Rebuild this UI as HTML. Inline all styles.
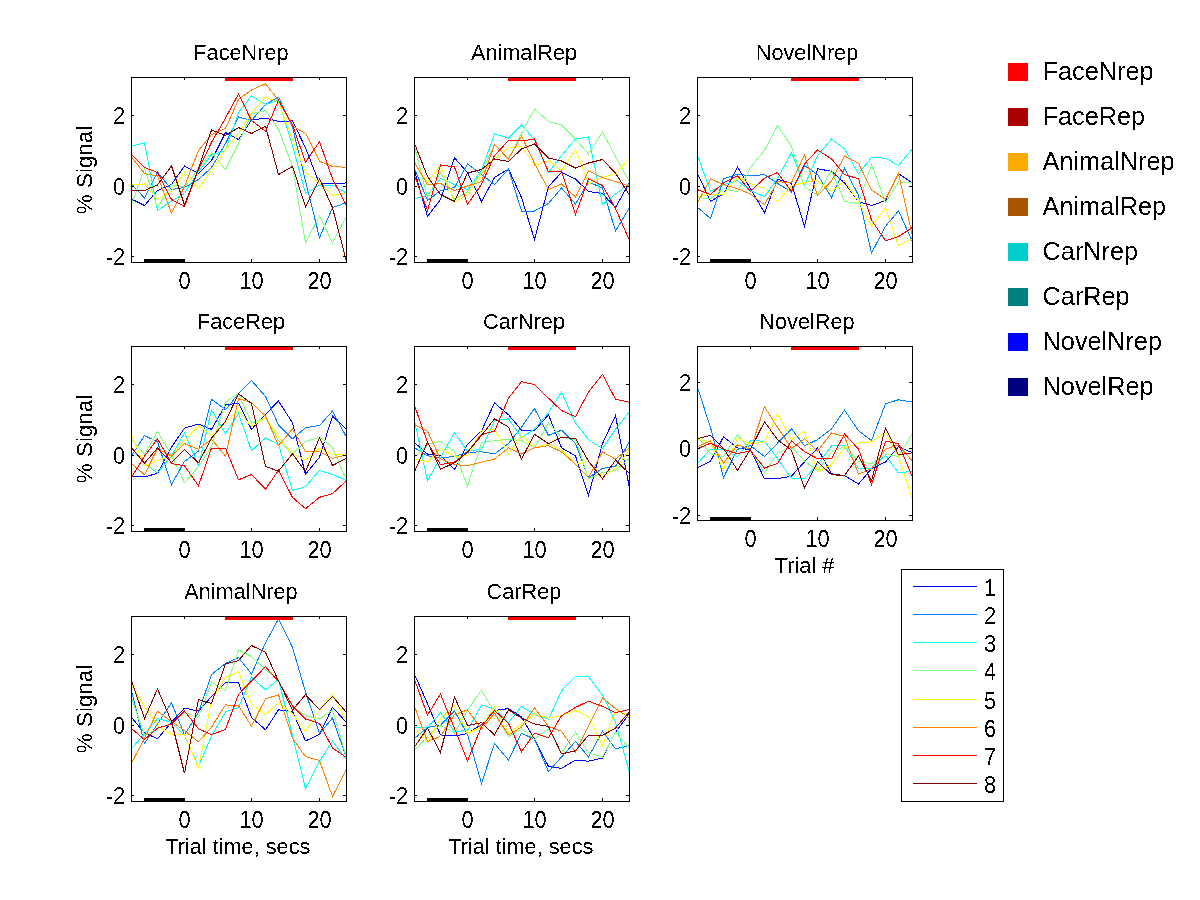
<!DOCTYPE html><html><head><meta charset="utf-8"><title>Figure</title><style>html,body{margin:0;padding:0;background:#fff;}svg{display:block;}text{font-family:"Liberation Sans", Arial, Helvetica, sans-serif;font-size:22.5px;fill:#000;}</style></head><body>
<svg width="1200" height="900" viewBox="0 0 1200 900">
<defs><filter id="crisp" x="0" y="0" width="1200" height="900" filterUnits="userSpaceOnUse"><feComponentTransfer><feFuncA type="discrete" tableValues="0 1"/></feComponentTransfer></filter></defs>
<rect x="0" y="0" width="1200" height="900" fill="#fff"/>
<g shape-rendering="crispEdges"><polyline points="131.5,199.0 144.5,205.5 157.5,190.5 171.5,184.5 184.5,166.0 198.5,173.5 211.5,160.5 225.5,132.5 238.5,139.5 251.5,120.0 265.5,118.2 278.5,121.3 292.5,120.9 305.5,147.8 319.5,183.9 332.5,183.9 346.5,182.9" fill="none" stroke="#0000ff" stroke-width="1"/><polyline points="131.5,184.0 144.5,198.0 157.5,172.0 171.5,189.5 184.5,187.5 198.5,179.5 211.5,167.5 225.5,143.5 238.5,117.0 251.5,120.5 265.5,104.4 278.5,97.1 292.5,127.1 305.5,180.8 319.5,237.7 332.5,207.7 346.5,202.5" fill="none" stroke="#0080ff" stroke-width="1"/><polyline points="131.5,146.0 144.5,143.0 157.5,210.5 171.5,201.0 184.5,193.5 198.5,171.5 211.5,155.0 225.5,150.5 238.5,112.5 251.5,96.0 265.5,104.4 278.5,100.2 292.5,145.7 305.5,193.2 319.5,185.0 332.5,185.0 346.5,193.2" fill="none" stroke="#00ffff" stroke-width="1"/><polyline points="131.5,204.5 144.5,168.5 157.5,207.5 171.5,185.0 184.5,187.0 198.5,168.5 211.5,152.5 225.5,169.5 238.5,143.5 251.5,114.0 265.5,110.5 278.5,129.2 292.5,166.4 305.5,242.8 319.5,216.0 332.5,242.8 346.5,216.0" fill="none" stroke="#80ff80" stroke-width="1"/><polyline points="131.5,185.0 144.5,184.0 157.5,199.5 171.5,191.0 184.5,172.0 198.5,188.5 211.5,170.5 225.5,149.5 238.5,133.5 251.5,113.5 265.5,97.1 278.5,102.3 292.5,139.5 305.5,172.5 319.5,182.9 332.5,195.3 346.5,193.2" fill="none" stroke="#ffff00" stroke-width="1"/><polyline points="131.5,157.0 144.5,173.5 157.5,176.0 171.5,213.0 184.5,186.5 198.5,150.5 211.5,134.5 225.5,128.5 238.5,99.5 251.5,90.0 265.5,83.7 278.5,100.2 292.5,126.1 305.5,133.3 319.5,161.2 332.5,166.4 346.5,167.4" fill="none" stroke="#ff8000" stroke-width="1"/><polyline points="131.5,154.5 144.5,167.5 157.5,172.5 171.5,199.5 184.5,206.5 198.5,169.5 211.5,142.5 225.5,118.1 238.5,94.0 251.5,120.5 265.5,131.2 278.5,100.2 292.5,125.0 305.5,162.2 319.5,141.5 332.5,178.8 346.5,205.5" fill="none" stroke="#ff0000" stroke-width="1"/><polyline points="131.5,190.5 144.5,190.5 157.5,185.0 171.5,166.0 184.5,205.0 198.5,168.5 211.5,130.0 225.5,135.5 238.5,127.5 251.5,133.5 265.5,126.1 278.5,174.6 292.5,166.4 305.5,206.7 319.5,178.8 332.5,207.7 346.5,261.5" fill="none" stroke="#800000" stroke-width="1"/></g>
<rect x="131.5" y="77.5" width="215" height="185" fill="none" stroke="#000" stroke-width="1" shape-rendering="crispEdges"/>
<g fill="#000"><rect x="184" y="259" width="1" height="3"/><rect x="184" y="78" width="1" height="2"/><rect x="251" y="259" width="1" height="3"/><rect x="251" y="78" width="1" height="2"/><rect x="319" y="259" width="1" height="3"/><rect x="319" y="78" width="1" height="2"/><rect x="132" y="256" width="2" height="1"/><rect x="343" y="256" width="3" height="1"/><rect x="132" y="186" width="2" height="1"/><rect x="343" y="186" width="3" height="1"/><rect x="132" y="115" width="2" height="1"/><rect x="343" y="115" width="3" height="1"/></g>
<rect x="144" y="259" width="41" height="3" fill="#000"/>
<rect x="225" y="78" width="68" height="3" fill="#ff0000"/>
<g shape-rendering="crispEdges"><polyline points="414.5,170.5 427.5,216.5 440.5,199.5 454.5,158.0 467.5,172.5 481.5,201.5 494.5,177.5 508.5,169.0 521.5,197.5 534.5,239.5 548.5,186.5 561.5,172.5 575.5,179.0 588.5,191.5 602.5,193.5 615.5,207.5 629.5,182.5" fill="none" stroke="#0000ff" stroke-width="1"/><polyline points="414.5,168.5 427.5,200.5 440.5,190.5 454.5,187.5 467.5,164.0 481.5,174.5 494.5,184.5 508.5,169.0 521.5,211.0 534.5,211.0 548.5,203.5 561.5,188.0 575.5,204.0 588.5,182.0 602.5,188.0 615.5,231.0 629.5,207.5" fill="none" stroke="#0080ff" stroke-width="1"/><polyline points="414.5,198.5 427.5,195.5 440.5,178.5 454.5,184.5 467.5,189.5 481.5,170.5 494.5,134.0 508.5,138.0 521.5,125.0 534.5,139.5 548.5,172.5 561.5,155.5 575.5,139.0 588.5,137.0 602.5,204.5 615.5,194.0 629.5,183.5" fill="none" stroke="#00ffff" stroke-width="1"/><polyline points="414.5,146.5 427.5,197.5 440.5,172.5 454.5,199.5 467.5,191.5 481.5,172.5 494.5,144.5 508.5,158.5 521.5,133.5 534.5,109.0 548.5,121.5 561.5,125.0 575.5,139.0 588.5,154.0 602.5,132.0 615.5,156.5 629.5,181.5" fill="none" stroke="#80ff80" stroke-width="1"/><polyline points="414.5,163.5 427.5,182.5 440.5,165.5 454.5,202.5 467.5,194.5 481.5,173.5 494.5,159.5 508.5,147.5 521.5,146.0 534.5,165.5 548.5,160.5 561.5,170.5 575.5,150.0 588.5,183.0 602.5,177.5 615.5,173.5 629.5,158.5" fill="none" stroke="#ffff00" stroke-width="1"/><polyline points="414.5,162.5 427.5,184.5 440.5,183.5 454.5,190.5 467.5,186.0 481.5,181.5 494.5,144.5 508.5,159.0 521.5,136.0 534.5,163.5 548.5,189.5 561.5,184.0 575.5,197.0 588.5,171.0 602.5,177.5 615.5,181.5 629.5,186.0" fill="none" stroke="#ff8000" stroke-width="1"/><polyline points="414.5,175.5 427.5,210.5 440.5,165.0 454.5,167.0 467.5,204.5 481.5,184.5 494.5,155.5 508.5,140.5 521.5,141.0 534.5,139.0 548.5,172.0 561.5,171.0 575.5,214.5 588.5,179.0 602.5,185.5 615.5,208.5 629.5,240.5" fill="none" stroke="#ff0000" stroke-width="1"/><polyline points="414.5,143.5 427.5,176.5 440.5,194.5 454.5,201.5 467.5,173.0 481.5,169.5 494.5,159.0 508.5,161.5 521.5,149.0 534.5,144.0 548.5,158.0 561.5,161.0 575.5,168.0 588.5,163.0 602.5,159.5 615.5,173.0 629.5,195.0" fill="none" stroke="#800000" stroke-width="1"/></g>
<rect x="414.5" y="77.5" width="215" height="185" fill="none" stroke="#000" stroke-width="1" shape-rendering="crispEdges"/>
<g fill="#000"><rect x="467" y="259" width="1" height="3"/><rect x="467" y="78" width="1" height="2"/><rect x="534" y="259" width="1" height="3"/><rect x="534" y="78" width="1" height="2"/><rect x="602" y="259" width="1" height="3"/><rect x="602" y="78" width="1" height="2"/><rect x="415" y="256" width="2" height="1"/><rect x="626" y="256" width="3" height="1"/><rect x="415" y="186" width="2" height="1"/><rect x="626" y="186" width="3" height="1"/><rect x="415" y="115" width="2" height="1"/><rect x="626" y="115" width="3" height="1"/></g>
<rect x="427" y="259" width="41" height="3" fill="#000"/>
<rect x="508" y="78" width="68" height="3" fill="#ff0000"/>
<g shape-rendering="crispEdges"><polyline points="697.5,173.6 710.5,201.2 723.5,194.1 737.5,166.9 750.5,188.7 764.5,212.8 777.5,179.2 791.5,183.6 804.5,226.5 817.5,168.7 831.5,171.3 844.5,182.9 858.5,201.5 871.5,205.6 885.5,200.5 898.5,173.6 912.5,182.9" fill="none" stroke="#0000ff" stroke-width="1"/><polyline points="697.5,207.4 710.5,218.5 723.5,178.9 737.5,174.1 750.5,175.8 764.5,174.6 777.5,183.5 791.5,191.6 804.5,165.5 817.5,174.5 831.5,197.6 844.5,168.4 858.5,195.3 871.5,253.2 885.5,226.3 898.5,210.8 912.5,241.8" fill="none" stroke="#0080ff" stroke-width="1"/><polyline points="697.5,155.4 710.5,191.4 723.5,184.7 737.5,180.7 750.5,190.5 764.5,196.8 777.5,178.5 791.5,152.7 804.5,185.5 817.5,155.9 831.5,139.0 844.5,148.8 858.5,173.6 871.5,157.7 885.5,158.1 898.5,165.3 912.5,148.8" fill="none" stroke="#00ffff" stroke-width="1"/><polyline points="697.5,197.6 710.5,198.9 723.5,188.7 737.5,191.8 750.5,167.4 764.5,150.5 777.5,125.6 791.5,146.1 804.5,186.9 817.5,195.0 831.5,170.1 844.5,201.5 858.5,203.6 871.5,164.3 885.5,202.5 898.5,181.9 912.5,182.9" fill="none" stroke="#80ff80" stroke-width="1"/><polyline points="697.5,196.7 710.5,194.1 723.5,194.1 737.5,177.6 750.5,183.4 764.5,188.5 777.5,201.8 791.5,185.8 804.5,182.5 817.5,180.5 831.5,191.5 844.5,180.8 858.5,201.5 871.5,226.3 885.5,207.7 898.5,245.9 912.5,238.7" fill="none" stroke="#ffff00" stroke-width="1"/><polyline points="697.5,202.9 710.5,178.9 723.5,184.7 737.5,188.7 750.5,194.1 764.5,204.8 777.5,181.7 791.5,182.6 804.5,154.9 817.5,195.7 831.5,180.8 844.5,156.0 858.5,163.3 871.5,190.1 885.5,199.4 898.5,173.6 912.5,236.6" fill="none" stroke="#ff8000" stroke-width="1"/><polyline points="697.5,189.6 710.5,194.5 723.5,182.9 737.5,175.8 750.5,191.4 764.5,178.1 777.5,172.6 791.5,191.7 804.5,164.0 817.5,150.0 831.5,158.8 844.5,174.6 858.5,178.8 871.5,220.1 885.5,240.8 898.5,236.6 912.5,227.3" fill="none" stroke="#ff0000" stroke-width="1"/><polyline points="" fill="none" stroke="#800000" stroke-width="1"/></g>
<rect x="697.5" y="77.5" width="215" height="185" fill="none" stroke="#000" stroke-width="1" shape-rendering="crispEdges"/>
<g fill="#000"><rect x="750" y="259" width="1" height="3"/><rect x="750" y="78" width="1" height="2"/><rect x="817" y="259" width="1" height="3"/><rect x="817" y="78" width="1" height="2"/><rect x="885" y="259" width="1" height="3"/><rect x="885" y="78" width="1" height="2"/><rect x="698" y="256" width="2" height="1"/><rect x="909" y="256" width="3" height="1"/><rect x="698" y="186" width="2" height="1"/><rect x="909" y="186" width="3" height="1"/><rect x="698" y="115" width="2" height="1"/><rect x="909" y="115" width="3" height="1"/></g>
<rect x="710" y="259" width="41" height="3" fill="#000"/>
<rect x="791" y="78" width="68" height="3" fill="#ff0000"/>
<g shape-rendering="crispEdges"><polyline points="131.5,476.1 144.5,476.9 157.5,473.4 171.5,447.2 184.5,428.1 198.5,424.1 211.5,429.4 225.5,404.9 238.5,403.2 251.5,429.4 265.5,414.3 278.5,401.1 292.5,422.7 305.5,474.4 319.5,457.2 332.5,416.1 346.5,429.4" fill="none" stroke="#0000ff" stroke-width="1"/><polyline points="131.5,455.6 144.5,435.6 157.5,441.8 171.5,484.5 184.5,461.4 198.5,451.1 211.5,399.2 225.5,409.8 238.5,393.8 251.5,380.5 265.5,396.5 278.5,424.9 292.5,438.8 305.5,427.7 319.5,425.5 332.5,411.1 346.5,437.2" fill="none" stroke="#0080ff" stroke-width="1"/><polyline points="131.5,448.1 144.5,463.2 157.5,472.9 171.5,456.1 184.5,432.9 198.5,465.8 211.5,409.8 225.5,433.8 238.5,413.4 251.5,450.7 265.5,438.0 278.5,444.4 292.5,490.5 305.5,486.6 319.5,470.5 332.5,474.4 346.5,480.5" fill="none" stroke="#00ffff" stroke-width="1"/><polyline points="131.5,439.2 144.5,454.3 157.5,431.6 171.5,455.2 184.5,482.7 198.5,466.7 211.5,446.3 225.5,401.8 238.5,393.8 251.5,423.2 265.5,417.6 278.5,440.5 292.5,453.8 305.5,441.6 319.5,437.2 332.5,447.2 346.5,480.5" fill="none" stroke="#80ff80" stroke-width="1"/><polyline points="131.5,434.7 144.5,465.8 157.5,460.5 171.5,456.1 184.5,440.5 198.5,425.8 211.5,435.6 225.5,422.3 238.5,410.3 251.5,426.7 265.5,417.4 278.5,437.2 292.5,453.8 305.5,459.9 319.5,448.3 332.5,454.9 346.5,453.8" fill="none" stroke="#ffff00" stroke-width="1"/><polyline points="131.5,463.6 144.5,474.7 157.5,448.5 171.5,456.1 184.5,443.6 198.5,449.3 211.5,439.2 225.5,456.1 238.5,398.7 251.5,402.7 265.5,416.1 278.5,445.5 292.5,428.8 305.5,451.6 319.5,451.6 332.5,458.3 346.5,454.9" fill="none" stroke="#ff8000" stroke-width="1"/><polyline points="131.5,477.4 144.5,456.1 157.5,438.7 171.5,463.6 184.5,465.8 198.5,485.8 211.5,448.1 225.5,448.1 238.5,479.8 251.5,474.6 265.5,489.2 278.5,470.2 292.5,497.4 305.5,508.7 319.5,497.3 332.5,493.7 346.5,480.5" fill="none" stroke="#ff0000" stroke-width="1"/><polyline points="131.5,447.6 144.5,463.2 157.5,448.1 171.5,462.7 184.5,449.8 198.5,462.8 211.5,438.3 225.5,421.4 238.5,393.8 251.5,403.6 265.5,466.5 278.5,471.1 292.5,453.8 305.5,471.6 319.5,437.7 332.5,465.5 346.5,458.3" fill="none" stroke="#800000" stroke-width="1"/></g>
<rect x="131.5" y="346.5" width="215" height="185" fill="none" stroke="#000" stroke-width="1" shape-rendering="crispEdges"/>
<g fill="#000"><rect x="184" y="528" width="1" height="3"/><rect x="184" y="347" width="1" height="2"/><rect x="251" y="528" width="1" height="3"/><rect x="251" y="347" width="1" height="2"/><rect x="319" y="528" width="1" height="3"/><rect x="319" y="347" width="1" height="2"/><rect x="132" y="525" width="2" height="1"/><rect x="343" y="525" width="3" height="1"/><rect x="132" y="455" width="2" height="1"/><rect x="343" y="455" width="3" height="1"/><rect x="132" y="384" width="2" height="1"/><rect x="343" y="384" width="3" height="1"/></g>
<rect x="144" y="528" width="41" height="3" fill="#000"/>
<rect x="225" y="347" width="68" height="3" fill="#ff0000"/>
<g shape-rendering="crispEdges"><polyline points="414.5,442.5 427.5,454.1 440.5,455.8 454.5,469.6 467.5,444.3 481.5,430.9 494.5,403.0 508.5,414.7 521.5,430.2 534.5,430.8 548.5,414.7 561.5,447.8 575.5,456.0 588.5,495.3 602.5,443.6 615.5,415.7 629.5,488.1" fill="none" stroke="#0000ff" stroke-width="1"/><polyline points="414.5,447.8 427.5,455.8 440.5,458.1 454.5,456.3 467.5,452.3 481.5,451.8 494.5,454.0 508.5,443.6 521.5,427.1 534.5,408.5 548.5,435.4 561.5,430.2 575.5,443.6 588.5,477.7 602.5,468.4 615.5,466.4 629.5,441.6" fill="none" stroke="#0080ff" stroke-width="1"/><polyline points="414.5,420.7 427.5,480.7 440.5,457.6 454.5,432.7 467.5,451.4 481.5,449.2 494.5,420.9 508.5,418.8 521.5,437.4 534.5,429.1 548.5,412.6 561.5,392.0 575.5,423.0 588.5,439.5 602.5,448.8 615.5,429.2 629.5,411.6" fill="none" stroke="#00ffff" stroke-width="1"/><polyline points="414.5,457.6 427.5,444.3 440.5,441.2 454.5,451.4 467.5,486.1 481.5,442.9 494.5,440.5 508.5,439.5 521.5,440.5 534.5,447.8 548.5,423.0 561.5,437.4 575.5,439.5 588.5,478.8 602.5,472.6 615.5,470.5 629.5,458.1" fill="none" stroke="#80ff80" stroke-width="1"/><polyline points="414.5,458.9 427.5,462.1 440.5,448.7 454.5,456.3 467.5,455.8 481.5,430.1 494.5,429.2 508.5,454.0 521.5,435.4 534.5,447.8 548.5,443.6 561.5,449.8 575.5,464.3 588.5,461.2 602.5,476.7 615.5,468.4 629.5,449.8" fill="none" stroke="#ffff00" stroke-width="1"/><polyline points="414.5,424.7 427.5,431.4 440.5,458.9 454.5,464.7 467.5,465.6 481.5,462.1 494.5,459.1 508.5,447.8 521.5,454.0 534.5,447.8 548.5,445.7 561.5,451.9 575.5,464.3 588.5,477.7 602.5,451.9 615.5,459.1 629.5,447.8" fill="none" stroke="#ff8000" stroke-width="1"/><polyline points="414.5,405.4 427.5,442.5 440.5,464.7 454.5,462.1 467.5,452.3 481.5,434.5 494.5,431.2 508.5,398.2 521.5,381.6 534.5,384.7 548.5,398.2 561.5,410.6 575.5,416.8 588.5,392.0 602.5,374.4 615.5,399.2 629.5,402.3" fill="none" stroke="#ff0000" stroke-width="1"/><polyline points="414.5,471.8 427.5,442.1 440.5,469.2 454.5,462.9 467.5,452.3 481.5,435.5 494.5,418.8 508.5,427.1 521.5,459.1 534.5,434.3 548.5,443.6 561.5,437.4 575.5,438.5 588.5,461.2 602.5,478.8 615.5,460.2 629.5,473.6" fill="none" stroke="#800000" stroke-width="1"/></g>
<rect x="414.5" y="346.5" width="215" height="185" fill="none" stroke="#000" stroke-width="1" shape-rendering="crispEdges"/>
<g fill="#000"><rect x="467" y="528" width="1" height="3"/><rect x="467" y="347" width="1" height="2"/><rect x="534" y="528" width="1" height="3"/><rect x="534" y="347" width="1" height="2"/><rect x="602" y="528" width="1" height="3"/><rect x="602" y="347" width="1" height="2"/><rect x="415" y="525" width="2" height="1"/><rect x="626" y="525" width="3" height="1"/><rect x="415" y="455" width="2" height="1"/><rect x="626" y="455" width="3" height="1"/><rect x="415" y="384" width="2" height="1"/><rect x="626" y="384" width="3" height="1"/></g>
<rect x="427" y="528" width="41" height="3" fill="#000"/>
<rect x="508" y="347" width="68" height="3" fill="#ff0000"/>
<g shape-rendering="crispEdges"><polyline points="697.5,467.9 710.5,461.3 723.5,436.8 737.5,447.9 750.5,449.7 764.5,478.9 777.5,478.7 791.5,476.1 804.5,461.8 817.5,448.1 831.5,473.8 844.5,475.7 858.5,484.0 871.5,468.7 885.5,462.0 898.5,446.7 912.5,452.8" fill="none" stroke="#0000ff" stroke-width="1"/><polyline points="697.5,387.4 710.5,427.5 723.5,477.7 737.5,449.3 750.5,445.7 764.5,456.6 777.5,443.2 791.5,428.9 804.5,445.8 817.5,439.6 831.5,428.9 844.5,410.1 858.5,430.8 871.5,440.6 885.5,403.9 898.5,399.7 912.5,402.1" fill="none" stroke="#0080ff" stroke-width="1"/><polyline points="697.5,463.5 710.5,449.3 723.5,449.7 737.5,456.8 750.5,440.8 764.5,441.1 777.5,458.3 791.5,478.7 804.5,478.7 817.5,464.5 831.5,445.8 844.5,446.0 858.5,468.7 871.5,468.7 885.5,455.3 898.5,473.0 912.5,471.2" fill="none" stroke="#00ffff" stroke-width="1"/><polyline points="697.5,436.4 710.5,453.7 723.5,456.8 737.5,434.6 750.5,449.7 764.5,472.9 777.5,452.9 791.5,446.7 804.5,460.9 817.5,470.7 831.5,452.1 844.5,446.5 858.5,461.4 871.5,463.8 885.5,454.1 898.5,456.5 912.5,433.3" fill="none" stroke="#80ff80" stroke-width="1"/><polyline points="697.5,439.1 710.5,442.2 723.5,469.7 737.5,438.2 750.5,443.9 764.5,442.0 777.5,413.8 791.5,439.6 804.5,431.2 817.5,471.6 831.5,464.5 844.5,448.0 858.5,443.1 871.5,441.8 885.5,432.1 898.5,456.5 912.5,499.3" fill="none" stroke="#ffff00" stroke-width="1"/><polyline points="697.5,446.6 710.5,440.8 723.5,463.1 737.5,444.8 750.5,449.3 764.5,406.8 777.5,427.2 791.5,448.5 804.5,438.7 817.5,451.2 831.5,432.9 844.5,436.5 858.5,474.2 871.5,468.7 885.5,449.2 898.5,444.9 912.5,461.4" fill="none" stroke="#ff8000" stroke-width="1"/><polyline points="697.5,448.8 710.5,443.1 723.5,449.3 737.5,453.7 750.5,450.6 764.5,468.0 777.5,463.6 791.5,440.9 804.5,451.6 817.5,458.7 831.5,458.7 844.5,433.9 858.5,449.2 871.5,484.6 885.5,441.2 898.5,443.7 912.5,477.3" fill="none" stroke="#ff0000" stroke-width="1"/><polyline points="697.5,438.6 710.5,435.5 723.5,448.4 737.5,470.2 750.5,449.3 764.5,421.7 777.5,439.6 791.5,450.3 804.5,487.9 817.5,461.8 831.5,474.7 844.5,475.5 858.5,455.9 871.5,481.0 885.5,427.8 898.5,454.7 912.5,452.8" fill="none" stroke="#800000" stroke-width="1"/></g>
<rect x="697.5" y="346.5" width="215" height="174" fill="none" stroke="#000" stroke-width="1" shape-rendering="crispEdges"/>
<g fill="#000"><rect x="750" y="517" width="1" height="3"/><rect x="750" y="347" width="1" height="2"/><rect x="817" y="517" width="1" height="3"/><rect x="817" y="347" width="1" height="2"/><rect x="885" y="517" width="1" height="3"/><rect x="885" y="347" width="1" height="2"/><rect x="698" y="515" width="2" height="1"/><rect x="909" y="515" width="3" height="1"/><rect x="698" y="448" width="2" height="1"/><rect x="909" y="448" width="3" height="1"/><rect x="698" y="382" width="2" height="1"/><rect x="909" y="382" width="3" height="1"/></g>
<rect x="710" y="517" width="41" height="3" fill="#000"/>
<rect x="791" y="347" width="68" height="3" fill="#ff0000"/>
<g shape-rendering="crispEdges"><polyline points="131.5,717.4 144.5,732.9 157.5,738.7 171.5,722.3 184.5,708.1 198.5,711.1 211.5,696.5 225.5,682.5 238.5,683.0 251.5,717.5 265.5,729.8 278.5,709.8 292.5,711.4 305.5,740.9 319.5,734.5 332.5,707.3 346.5,722.5" fill="none" stroke="#0000ff" stroke-width="1"/><polyline points="131.5,691.2 144.5,743.6 157.5,724.1 171.5,702.7 184.5,735.0 198.5,712.5 211.5,674.5 225.5,663.5 238.5,657.5 251.5,674.0 265.5,643.0 278.5,618.6 292.5,647.5 305.5,692.0 319.5,733.5 332.5,718.1 346.5,758.0" fill="none" stroke="#0080ff" stroke-width="1"/><polyline points="131.5,748.9 144.5,733.8 157.5,718.7 171.5,722.3 184.5,735.2 198.5,766.3 211.5,736.1 225.5,712.0 238.5,707.5 251.5,677.1 265.5,689.8 278.5,679.5 292.5,735.5 305.5,788.5 319.5,761.5 332.5,741.0 346.5,760.0" fill="none" stroke="#00ffff" stroke-width="1"/><polyline points="131.5,697.4 144.5,735.6 157.5,728.5 171.5,724.1 184.5,712.3 198.5,717.6 211.5,682.0 225.5,690.5 238.5,650.0 251.5,656.5 265.5,669.5 278.5,680.1 292.5,707.2 305.5,715.5 319.5,719.0 332.5,710.0 346.5,757.5" fill="none" stroke="#80ff80" stroke-width="1"/><polyline points="131.5,685.2 144.5,706.3 157.5,725.8 171.5,734.7 184.5,734.3 198.5,768.1 211.5,700.5 225.5,677.5 238.5,671.2 251.5,704.1 265.5,714.7 278.5,702.7 292.5,713.7 305.5,731.5 319.5,710.0 332.5,693.9 346.5,721.5" fill="none" stroke="#ffff00" stroke-width="1"/><polyline points="131.5,763.2 144.5,738.3 157.5,711.2 171.5,721.4 184.5,730.7 198.5,741.8 211.5,727.2 225.5,704.9 238.5,705.7 251.5,726.3 265.5,698.8 278.5,694.9 292.5,738.1 305.5,756.7 319.5,760.5 332.5,796.5 346.5,769.3" fill="none" stroke="#ff8000" stroke-width="1"/><polyline points="131.5,728.5 144.5,739.6 157.5,728.1 171.5,724.1 184.5,711.2 198.5,728.7 211.5,734.7 225.5,729.4 238.5,694.3 251.5,681.1 265.5,666.7 278.5,681.5 292.5,705.8 305.5,719.0 319.5,723.5 332.5,748.0 346.5,757.5" fill="none" stroke="#ff0000" stroke-width="1"/><polyline points="131.5,680.5 144.5,718.7 157.5,688.9 171.5,721.4 184.5,773.4 198.5,699.5 211.5,703.5 225.5,664.0 238.5,660.5 251.5,645.5 265.5,652.3 278.5,680.9 292.5,710.0 305.5,694.7 319.5,709.7 332.5,696.3 346.5,712.5" fill="none" stroke="#800000" stroke-width="1"/></g>
<rect x="131.5" y="616.5" width="215" height="185" fill="none" stroke="#000" stroke-width="1" shape-rendering="crispEdges"/>
<g fill="#000"><rect x="184" y="798" width="1" height="3"/><rect x="184" y="617" width="1" height="2"/><rect x="251" y="798" width="1" height="3"/><rect x="251" y="617" width="1" height="2"/><rect x="319" y="798" width="1" height="3"/><rect x="319" y="617" width="1" height="2"/><rect x="132" y="795" width="2" height="1"/><rect x="343" y="795" width="3" height="1"/><rect x="132" y="725" width="2" height="1"/><rect x="343" y="725" width="3" height="1"/><rect x="132" y="654" width="2" height="1"/><rect x="343" y="654" width="3" height="1"/></g>
<rect x="144" y="798" width="41" height="3" fill="#000"/>
<rect x="225" y="617" width="68" height="3" fill="#ff0000"/>
<g shape-rendering="crispEdges"><polyline points="414.5,674.5 427.5,703.5 440.5,735.0 454.5,736.0 467.5,733.5 481.5,724.5 494.5,710.5 508.5,708.6 521.5,716.9 534.5,739.3 548.5,766.5 561.5,768.4 575.5,760.1 588.5,761.2 602.5,758.1 615.5,732.2 629.5,713.6" fill="none" stroke="#0000ff" stroke-width="1"/><polyline points="414.5,738.5 427.5,727.5 440.5,725.0 454.5,711.0 467.5,734.5 481.5,783.5 494.5,743.5 508.5,760.0 521.5,733.2 534.5,739.3 548.5,771.5 561.5,757.0 575.5,741.5 588.5,757.0 602.5,731.2 615.5,748.8 629.5,745.7" fill="none" stroke="#0080ff" stroke-width="1"/><polyline points="414.5,728.0 427.5,727.5 440.5,713.0 454.5,731.5 467.5,730.5 481.5,705.0 494.5,709.2 508.5,722.7 521.5,706.3 534.5,714.6 548.5,719.2 561.5,690.9 575.5,676.4 588.5,676.4 602.5,695.0 615.5,721.9 629.5,772.5" fill="none" stroke="#00ffff" stroke-width="1"/><polyline points="414.5,750.5 427.5,736.5 440.5,725.0 454.5,733.0 467.5,710.5 481.5,690.1 494.5,712.3 508.5,736.7 521.5,728.7 534.5,739.4 548.5,728.7 561.5,752.9 575.5,732.2 588.5,752.9 602.5,757.0 615.5,732.2 629.5,748.8" fill="none" stroke="#80ff80" stroke-width="1"/><polyline points="414.5,728.5 427.5,742.5 440.5,718.5 454.5,706.0 467.5,733.5 481.5,726.5 494.5,706.8 508.5,733.1 521.5,724.3 534.5,713.9 548.5,718.1 561.5,715.7 575.5,710.5 588.5,716.7 602.5,745.7 615.5,710.5 629.5,715.7" fill="none" stroke="#ffff00" stroke-width="1"/><polyline points="414.5,706.5 427.5,741.5 440.5,736.5 454.5,714.5 467.5,710.0 481.5,729.0 494.5,713.5 508.5,734.9 521.5,727.1 534.5,707.7 548.5,726.5 561.5,731.2 575.5,751.9 588.5,726.0 602.5,698.1 615.5,708.5 629.5,717.8" fill="none" stroke="#ff8000" stroke-width="1"/><polyline points="414.5,679.5 427.5,715.0 440.5,694.0 454.5,728.5 467.5,761.0 481.5,726.5 494.5,710.5 508.5,723.3 521.5,751.7 534.5,733.2 548.5,737.7 561.5,715.7 575.5,707.4 588.5,701.2 602.5,706.4 615.5,712.6 629.5,709.5" fill="none" stroke="#ff0000" stroke-width="1"/><polyline points="414.5,747.0 427.5,728.0 440.5,752.5 454.5,697.0 467.5,725.5 481.5,722.7 494.5,734.9 508.5,709.8 521.5,718.1 534.5,724.0 548.5,726.5 561.5,753.9 575.5,750.8 588.5,735.3 602.5,735.3 615.5,728.1 629.5,711.6" fill="none" stroke="#800000" stroke-width="1"/></g>
<rect x="414.5" y="616.5" width="215" height="185" fill="none" stroke="#000" stroke-width="1" shape-rendering="crispEdges"/>
<g fill="#000"><rect x="467" y="798" width="1" height="3"/><rect x="467" y="617" width="1" height="2"/><rect x="534" y="798" width="1" height="3"/><rect x="534" y="617" width="1" height="2"/><rect x="602" y="798" width="1" height="3"/><rect x="602" y="617" width="1" height="2"/><rect x="415" y="795" width="2" height="1"/><rect x="626" y="795" width="3" height="1"/><rect x="415" y="725" width="2" height="1"/><rect x="626" y="725" width="3" height="1"/><rect x="415" y="654" width="2" height="1"/><rect x="626" y="654" width="3" height="1"/></g>
<rect x="427" y="798" width="41" height="3" fill="#000"/>
<rect x="508" y="617" width="68" height="3" fill="#ff0000"/>
<rect x="1008" y="63" width="20" height="18" fill="#ff0000"/>
<rect x="1008" y="108" width="20" height="18" fill="#aa0000"/>
<rect x="1008" y="153" width="20" height="18" fill="#ffaa00"/>
<rect x="1008" y="198" width="20" height="18" fill="#aa5500"/>
<rect x="1008" y="243" width="20" height="18" fill="#00cccc"/>
<rect x="1008" y="288" width="20" height="18" fill="#008080"/>
<rect x="1008" y="333" width="20" height="18" fill="#0000ff"/>
<rect x="1008" y="378" width="20" height="18" fill="#000080"/>
<rect x="901.5" y="569.5" width="102" height="232" fill="#fff" stroke="#000" stroke-width="1" shape-rendering="crispEdges"/>
<rect x="913" y="586" width="64" height="1" fill="#0000ff"/>
<rect x="913" y="614" width="64" height="1" fill="#0080ff"/>
<rect x="913" y="642" width="64" height="1" fill="#00ffff"/>
<rect x="913" y="670" width="64" height="1" fill="#80ff80"/>
<rect x="913" y="699" width="64" height="1" fill="#ffff00"/>
<rect x="913" y="727" width="64" height="1" fill="#ff8000"/>
<rect x="913" y="755" width="64" height="1" fill="#ff0000"/>
<rect x="913" y="783" width="64" height="1" fill="#800000"/>
<g filter="url(#crisp)"><text transform="translate(184.50,288.50) scale(0.930,1)" text-anchor="middle" style="font-size:23.4px">0</text><text transform="translate(251.50,288.50) scale(0.930,1)" text-anchor="middle" style="font-size:23.4px">10</text><text transform="translate(319.50,288.50) scale(0.930,1)" text-anchor="middle" style="font-size:23.4px">20</text><text transform="translate(125.00,264.50) scale(0.930,1)" text-anchor="end" style="font-size:23.4px">-2</text><text transform="translate(125.00,194.50) scale(0.930,1)" text-anchor="end" style="font-size:23.4px">0</text><text transform="translate(125.00,123.50) scale(0.930,1)" text-anchor="end" style="font-size:23.4px">2</text><text transform="translate(241.00,60.00) scale(0.965,1)" text-anchor="middle">FaceNrep</text><text transform="translate(92.30,170.00) rotate(-90) scale(0.995,1)" text-anchor="middle">% Signal</text><text transform="translate(467.50,288.50) scale(0.930,1)" text-anchor="middle" style="font-size:23.4px">0</text><text transform="translate(534.50,288.50) scale(0.930,1)" text-anchor="middle" style="font-size:23.4px">10</text><text transform="translate(602.50,288.50) scale(0.930,1)" text-anchor="middle" style="font-size:23.4px">20</text><text transform="translate(408.00,264.50) scale(0.930,1)" text-anchor="end" style="font-size:23.4px">-2</text><text transform="translate(408.00,194.50) scale(0.930,1)" text-anchor="end" style="font-size:23.4px">0</text><text transform="translate(408.00,123.50) scale(0.930,1)" text-anchor="end" style="font-size:23.4px">2</text><text transform="translate(524.00,60.00) scale(0.965,1)" text-anchor="middle">AnimalRep</text><text transform="translate(750.50,288.50) scale(0.930,1)" text-anchor="middle" style="font-size:23.4px">0</text><text transform="translate(817.50,288.50) scale(0.930,1)" text-anchor="middle" style="font-size:23.4px">10</text><text transform="translate(885.50,288.50) scale(0.930,1)" text-anchor="middle" style="font-size:23.4px">20</text><text transform="translate(691.00,264.50) scale(0.930,1)" text-anchor="end" style="font-size:23.4px">-2</text><text transform="translate(691.00,194.50) scale(0.930,1)" text-anchor="end" style="font-size:23.4px">0</text><text transform="translate(691.00,123.50) scale(0.930,1)" text-anchor="end" style="font-size:23.4px">2</text><text transform="translate(807.00,60.00) scale(0.965,1)" text-anchor="middle">NovelNrep</text><text transform="translate(184.50,557.50) scale(0.930,1)" text-anchor="middle" style="font-size:23.4px">0</text><text transform="translate(251.50,557.50) scale(0.930,1)" text-anchor="middle" style="font-size:23.4px">10</text><text transform="translate(319.50,557.50) scale(0.930,1)" text-anchor="middle" style="font-size:23.4px">20</text><text transform="translate(125.00,533.50) scale(0.930,1)" text-anchor="end" style="font-size:23.4px">-2</text><text transform="translate(125.00,463.50) scale(0.930,1)" text-anchor="end" style="font-size:23.4px">0</text><text transform="translate(125.00,392.50) scale(0.930,1)" text-anchor="end" style="font-size:23.4px">2</text><text transform="translate(241.00,329.00) scale(0.965,1)" text-anchor="middle">FaceRep</text><text transform="translate(92.30,439.00) rotate(-90) scale(0.995,1)" text-anchor="middle">% Signal</text><text transform="translate(467.50,557.50) scale(0.930,1)" text-anchor="middle" style="font-size:23.4px">0</text><text transform="translate(534.50,557.50) scale(0.930,1)" text-anchor="middle" style="font-size:23.4px">10</text><text transform="translate(602.50,557.50) scale(0.930,1)" text-anchor="middle" style="font-size:23.4px">20</text><text transform="translate(408.00,533.50) scale(0.930,1)" text-anchor="end" style="font-size:23.4px">-2</text><text transform="translate(408.00,463.50) scale(0.930,1)" text-anchor="end" style="font-size:23.4px">0</text><text transform="translate(408.00,392.50) scale(0.930,1)" text-anchor="end" style="font-size:23.4px">2</text><text transform="translate(524.00,329.00) scale(0.965,1)" text-anchor="middle">CarNrep</text><text transform="translate(750.50,546.50) scale(0.930,1)" text-anchor="middle" style="font-size:23.4px">0</text><text transform="translate(817.50,546.50) scale(0.930,1)" text-anchor="middle" style="font-size:23.4px">10</text><text transform="translate(885.50,546.50) scale(0.930,1)" text-anchor="middle" style="font-size:23.4px">20</text><text transform="translate(691.00,523.50) scale(0.930,1)" text-anchor="end" style="font-size:23.4px">-2</text><text transform="translate(691.00,456.50) scale(0.930,1)" text-anchor="end" style="font-size:23.4px">0</text><text transform="translate(691.00,390.50) scale(0.930,1)" text-anchor="end" style="font-size:23.4px">2</text><text transform="translate(807.00,329.00) scale(0.965,1)" text-anchor="middle">NovelRep</text><text transform="translate(804.50,573.00) scale(0.965,1)" text-anchor="middle">Trial #</text><text transform="translate(184.50,827.50) scale(0.930,1)" text-anchor="middle" style="font-size:23.4px">0</text><text transform="translate(251.50,827.50) scale(0.930,1)" text-anchor="middle" style="font-size:23.4px">10</text><text transform="translate(319.50,827.50) scale(0.930,1)" text-anchor="middle" style="font-size:23.4px">20</text><text transform="translate(125.00,803.50) scale(0.930,1)" text-anchor="end" style="font-size:23.4px">-2</text><text transform="translate(125.00,733.50) scale(0.930,1)" text-anchor="end" style="font-size:23.4px">0</text><text transform="translate(125.00,662.50) scale(0.930,1)" text-anchor="end" style="font-size:23.4px">2</text><text transform="translate(241.00,599.00) scale(0.965,1)" text-anchor="middle">AnimalNrep</text><text transform="translate(92.30,709.00) rotate(-90) scale(0.995,1)" text-anchor="middle">% Signal</text><text transform="translate(237.80,854.00) scale(0.965,1)" text-anchor="middle">Trial time, secs</text><text transform="translate(467.50,827.50) scale(0.930,1)" text-anchor="middle" style="font-size:23.4px">0</text><text transform="translate(534.50,827.50) scale(0.930,1)" text-anchor="middle" style="font-size:23.4px">10</text><text transform="translate(602.50,827.50) scale(0.930,1)" text-anchor="middle" style="font-size:23.4px">20</text><text transform="translate(408.00,803.50) scale(0.930,1)" text-anchor="end" style="font-size:23.4px">-2</text><text transform="translate(408.00,733.50) scale(0.930,1)" text-anchor="end" style="font-size:23.4px">0</text><text transform="translate(408.00,662.50) scale(0.930,1)" text-anchor="end" style="font-size:23.4px">2</text><text transform="translate(524.00,599.00) scale(0.965,1)" text-anchor="middle">CarRep</text><text transform="translate(520.80,854.00) scale(0.965,1)" text-anchor="middle">Trial time, secs</text><text transform="translate(1042.60,80.00) scale(0.972,1)" style="font-size:26px">FaceNrep</text><text transform="translate(1042.60,125.00) scale(0.972,1)" style="font-size:26px">FaceRep</text><text transform="translate(1042.60,170.00) scale(0.972,1)" style="font-size:26px">AnimalNrep</text><text transform="translate(1042.60,215.00) scale(0.972,1)" style="font-size:26px">AnimalRep</text><text transform="translate(1042.60,260.00) scale(0.972,1)" style="font-size:26px">CarNrep</text><text transform="translate(1042.60,305.00) scale(0.972,1)" style="font-size:26px">CarRep</text><text transform="translate(1042.60,350.00) scale(0.972,1)" style="font-size:26px">NovelNrep</text><text transform="translate(1042.60,395.00) scale(0.972,1)" style="font-size:26px">NovelRep</text><text transform="translate(984.00,596.00) scale(0.930,1)" style="font-size:23.4px">1</text><text transform="translate(984.00,624.00) scale(0.930,1)" style="font-size:23.4px">2</text><text transform="translate(984.00,652.00) scale(0.930,1)" style="font-size:23.4px">3</text><text transform="translate(984.00,680.00) scale(0.930,1)" style="font-size:23.4px">4</text><text transform="translate(984.00,709.00) scale(0.930,1)" style="font-size:23.4px">5</text><text transform="translate(984.00,737.00) scale(0.930,1)" style="font-size:23.4px">6</text><text transform="translate(984.00,765.00) scale(0.930,1)" style="font-size:23.4px">7</text><text transform="translate(984.00,793.00) scale(0.930,1)" style="font-size:23.4px">8</text></g>
</svg></body></html>
